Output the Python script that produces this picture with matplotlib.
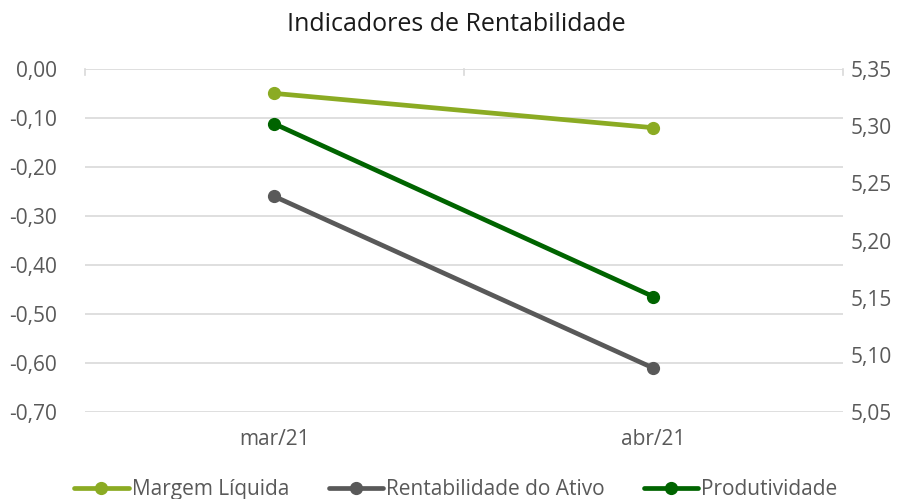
import matplotlib.pyplot as plt
from matplotlib.ticker import FuncFormatter
import numpy as np

plt.rcParams['font.family'] = ['Open Sans', 'DejaVu Sans']

# Dados
meses = ['mar/21', 'abr/21']
margem_liquida = [-0.05, -0.12]
rentab_ativo = [-0.26, -0.61]
produtividade = [5.302, 5.151]

cor_margem = '#8BAB23'
cor_rentab = '#595959'
cor_prod = '#006400'
cor_texto = '#595959'

fig = plt.figure(figsize=(9.12, 4.99), dpi=100)
ax = fig.add_axes([0.093, 0.174, 0.831, 0.688])
ax2 = ax.twinx()

x = np.arange(len(meses)) + 0.5
estilo = dict(linewidth=3.4, marker='o', markersize=8.5, solid_capstyle='round')
l1, = ax.plot(x, margem_liquida, color=cor_margem, label='Margem Líquida', **estilo)
l2, = ax.plot(x, rentab_ativo, color=cor_rentab, label='Rentabilidade do Ativo', **estilo)
l3, = ax2.plot(x, produtividade, color=cor_prod, label='Produtividade', **estilo)

ax.set_xlim(0, 2)
ax.set_ylim(-0.70, 0.0)
ax.set_yticks(np.arange(-0.70, 0.001, 0.10))
ax2.set_ylim(5.05, 5.35)
ax2.set_yticks(np.arange(5.05, 5.351, 0.05))

virgula = FuncFormatter(lambda v, p: f'{v + 0.0:.2f}'.replace('-0.00', '0.00').replace('.', ','))
ax.yaxis.set_major_formatter(virgula)
ax2.yaxis.set_major_formatter(virgula)

ax.set_xticks(x)
ax.set_xticklabels(meses)
ax.grid(axis='y', color='#D9D9D9', linewidth=1.2)
ax.set_axisbelow(True)

for a in (ax, ax2):
    for s in a.spines.values():
        s.set_visible(False)
    a.tick_params(length=0, labelsize=15, colors=cor_texto)
ax.tick_params(axis='y', pad=20)
ax2.tick_params(axis='y', pad=6)
ax.tick_params(axis='x', pad=12)

# pequenas marcas na linha superior
for xm in [0, 1, 2]:
    ax.plot([xm, xm], [0, -0.012], color='#D9D9D9', linewidth=1.2, clip_on=False)

fig.suptitle('Indicadores de Rentabilidade', y=0.975, fontsize=18, color='#1a1a1a')

fig.legend(handles=[l1, l2, l3], loc='lower center', ncol=3, frameon=False,
           bbox_to_anchor=(0.5, -0.04), fontsize=15, handlelength=2.6,
           handletextpad=0.15, columnspacing=1.9, labelcolor=cor_texto)

fig.savefig('out.png', dpi=100)
